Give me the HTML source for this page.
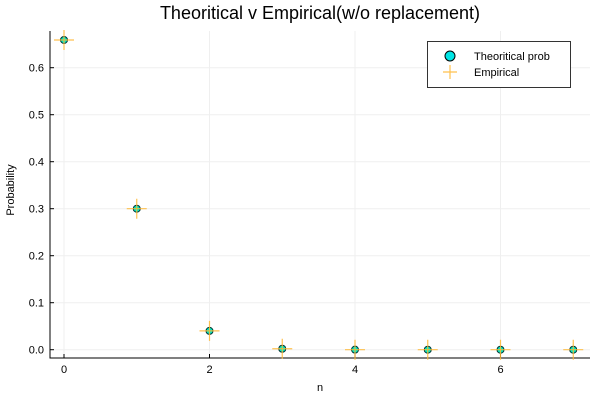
<!DOCTYPE html>
<html><head><meta charset="utf-8"><style>
body{margin:0;background:#fff;}
svg{display:block;font-family:"Liberation Sans","DejaVu Sans",sans-serif;}
</style></head><body>
<svg id="chart" width="600" height="400">
<text x="320" y="19" text-anchor="middle" font-size="18" fill="#000">Theoritical v Empirical(w/o replacement)</text>
<g id="grid"></g>
<g id="axes"></g>
<g id="marks"></g>
<text x="320" y="391" text-anchor="middle" font-size="11">n</text>
<text transform="translate(14,190) rotate(-90)" text-anchor="middle" font-size="11">Probability</text>
<g>
<rect x="427.5" y="41.5" width="143" height="46" fill="#fff" stroke="#333" stroke-width="1"/>
<circle cx="450" cy="56" r="5" fill="#00e5e5" stroke="#000" stroke-width="1"/>
<text x="474" y="60" font-size="11">Theoritical prob</text>
<path d="M443 72H457M450 65V79" stroke="#ffc14d" stroke-width="1.2"/>
<text x="474" y="76" font-size="11">Empirical</text>
</g>
</svg>
<script>
const categories=[0,1,2,3,4,5,6,7];
const theoretical=[0.659,0.300,0.040,0.002,0.0001,0,0,0];
const empirical=[0.659,0.300,0.040,0.002,0.0,0.0,0.0,0.0];
const xTicks=[0,2,4,6];
const yTicks=[0.0,0.1,0.2,0.3,0.4,0.5,0.6];
const NS="http://www.w3.org/2000/svg";
function X(v){return 64+v*72.75;}
function Y(v){return 349.7-v*470;}
function mk(tag,attrs,parent,text){const e=document.createElementNS(NS,tag);for(const k in attrs)e.setAttribute(k,attrs[k]);if(text!==undefined)e.textContent=text;parent.appendChild(e);return e;}
const grid=document.getElementById('grid'),axes=document.getElementById('axes'),marks=document.getElementById('marks');
xTicks.forEach(t=>{
 const l=mk('line',{x1:X(t),x2:X(t),y1:31,y2:358,stroke:'#efefef','stroke-width':1},grid);
 
 
 const k=mk('line',{x1:X(t),x2:X(t),y1:358,y2:354,stroke:'#000'},axes);
 
 
 const tx=mk('text',{x:X(t),y:373,'text-anchor':'middle','font-size':11},axes,String(t));
 
 
});
yTicks.forEach(t=>{
 const l=mk('line',{x1:50,x2:590,y1:Y(t),y2:Y(t),stroke:'#efefef','stroke-width':1},grid);
 
 
 const k=mk('line',{x1:50,x2:54,y1:Y(t),y2:Y(t),stroke:'#000'},axes);
 
 
 const tx=mk('text',{x:44,y:Y(t)+4,'text-anchor':'end','font-size':11},axes,t.toFixed(1));
 
 
});
const ax=mk('path',{d:'M50 31V358H590',fill:'none',stroke:'#000','stroke-width':1},axes);


categories.forEach((c,i)=>{
 const cx=X(c),cy=Y(theoretical[i]);
 const p=mk('circle',{cx:cx,cy:cy,r:3.5,fill:'#00e5c0',stroke:'#003333','stroke-width':1},marks);
 
 
 const ex=X(c),ey=Y(empirical[i]);
 const e=mk('path',{d:`M${ex-10} ${ey}H${ex+10}M${ex} ${ey-10}V${ey+10}`,stroke:'#ffb732','stroke-width':1.2,'stroke-opacity':0.85,fill:'none'},marks);
 
 
});
</script>
</body></html>
